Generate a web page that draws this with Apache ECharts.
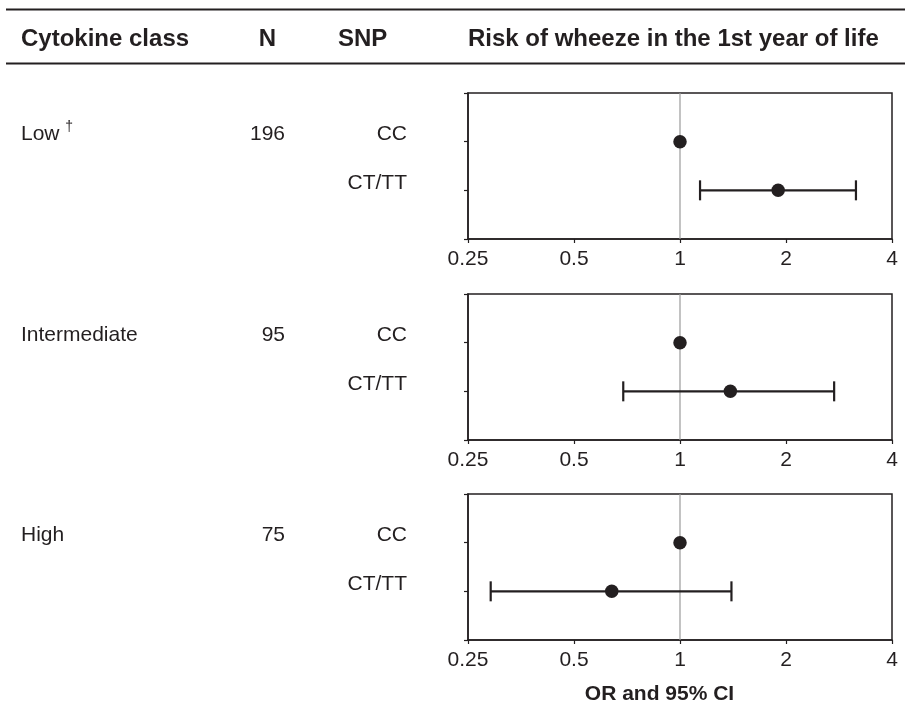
<!DOCTYPE html>
<html>
<head>
<meta charset="utf-8">
<style>
  html, body { margin: 0; padding: 0; background: #ffffff; }
  #chart { width: 905px; height: 713px; }
</style>
<script src="https://cdn.jsdelivr.net/npm/echarts@6/dist/echarts.min.js"></script>
</head>
<body>
<div id="chart"></div>
<script>
// ---- data ----
const headers = ['Cytokine class', 'N', 'SNP', 'Risk of wheeze in the 1st year of life'];
const cytokineClasses = ['Low', 'Intermediate', 'High'];
const classNotes = ['†', '', ''];
const nValues = [196, 95, 75];
const snpLabels = ['CC', 'CT/TT'];
const refOR = [1, 1, 1];            // CC reference group
const ctOR = [1.90, 1.39, 0.64];    // CT/TT odds ratio
const ciLow = [1.14, 0.69, 0.29];
const ciHigh = [3.16, 2.74, 1.40];
const xTicks = [0.25, 0.5, 1, 2, 4];
const xAxisTitle = 'OR and 95% CI';

// ---- layout ----
const INK = '#231f20';
const FONT = 'Arial, "Liberation Sans", Helvetica, sans-serif';
const gridTops = [93, 294, 494];
const gridH = 146;
const gridLeft = 468, gridRight = 13;
const rowY = [1, 2];

const chart = echarts.init(document.getElementById('chart'), null, { renderer: 'canvas' });

const grids = [], xAxes = [], yAxes = [], series = [], graphics = [];

gridTops.forEach((top, i) => {
  grids.push({
    left: gridLeft, right: gridRight, top: top, height: gridH,
    show: true, borderColor: INK, borderWidth: 1.5, backgroundColor: 'transparent'
  });
  xAxes.push({
    gridIndex: i, type: 'log', logBase: 2, position: 'bottom',
    min: xTicks[0], max: xTicks[xTicks.length - 1],
    axisLine: { show: true, onZero: false, lineStyle: { color: INK, width: 1.5 } },
    axisTick: { show: true, inside: false, length: 4, lineStyle: { color: INK, width: 1.2 } },
    splitLine: { show: false },
    minorTick: { show: false },
    axisLabel: {
      show: true, margin: 10, color: INK, fontSize: 21, fontFamily: FONT,
      formatter: v => { const t = xTicks.find(k => Math.abs(k - v) < 1e-6); return t === undefined ? '' : String(t); }
    }
  });
  yAxes.push({
    gridIndex: i, type: 'value', min: 0, max: 3, interval: 1, inverse: true, position: 'left',
    axisLine: { show: true, onZero: false, lineStyle: { color: INK, width: 1.5 } },
    axisTick: { show: true, inside: false, length: 4, lineStyle: { color: INK, width: 1.2 } },
    axisLabel: { show: false },
    splitLine: { show: false }
  });

  // reference line at OR = 1
  series.push({
    type: 'line', xAxisIndex: i, yAxisIndex: i,
    data: [[refOR[i], 0], [refOR[i], 3]],
    symbol: 'none', silent: true, z: 1,
    lineStyle: { color: '#9a9a9a', width: 1.2 }
  });
  // error bar for CT/TT
  series.push({
    type: 'custom', xAxisIndex: i, yAxisIndex: i, z: 2,
    data: [[ciLow[i], ciHigh[i], rowY[1]]],
    encode: { x: [0, 1], y: 2 },
    renderItem: (params, api) => {
      const y = api.value(2);
      const lo = api.coord([api.value(0), y]);
      const hi = api.coord([api.value(1), y]);
      const cap = 10;
      const st = { stroke: INK, lineWidth: 2.2 };
      return {
        type: 'group',
        children: [
          { type: 'line', shape: { x1: lo[0], y1: lo[1], x2: hi[0], y2: hi[1] }, style: st },
          { type: 'line', shape: { x1: lo[0], y1: lo[1] - cap, x2: lo[0], y2: lo[1] + cap }, style: st },
          { type: 'line', shape: { x1: hi[0], y1: hi[1] - cap, x2: hi[0], y2: hi[1] + cap }, style: st }
        ]
      };
    }
  });
  // point estimates
  series.push({
    type: 'scatter', xAxisIndex: i, yAxisIndex: i, z: 3,
    symbol: 'circle', symbolSize: 13.5,
    itemStyle: { color: INK, opacity: 1 },
    data: [[refOR[i], rowY[0]], [ctOR[i], rowY[1]]]
  });

  // table text for this panel
  const yCC = top + gridH * rowY[0] / 3;
  const yCT = top + gridH * rowY[1] / 3;
  graphics.push({
    type: 'text', x: 21, y: yCC - 7.5,
    style: {
      text: cytokineClasses[i] + (classNotes[i] ? ' {sup|' + classNotes[i] + '}' : ''),
      font: '21px ' + FONT, fill: INK, align: 'left', verticalAlign: 'middle',
      rich: { sup: { fontSize: 14, fontFamily: FONT, fill: INK, padding: [0, 0, 14, 0] } }
    }
  });
  graphics.push({
    type: 'text', x: 285, y: yCC - 7.5,
    style: { text: String(nValues[i]), font: '21px ' + FONT, fill: INK, align: 'right', verticalAlign: 'middle' }
  });
  graphics.push({
    type: 'text', x: 407, y: yCC - 7.5,
    style: { text: snpLabels[0], font: '21px ' + FONT, fill: INK, align: 'right', verticalAlign: 'middle' }
  });
  graphics.push({
    type: 'text', x: 407, y: yCT - 7.5,
    style: { text: snpLabels[1], font: '21px ' + FONT, fill: INK, align: 'right', verticalAlign: 'middle' }
  });
});

// header rules
graphics.push({ type: 'line', shape: { x1: 6, y1: 9.5, x2: 905, y2: 9.5 }, style: { stroke: INK, lineWidth: 1.8 } });
graphics.push({ type: 'line', shape: { x1: 6, y1: 63.5, x2: 905, y2: 63.5 }, style: { stroke: INK, lineWidth: 1.8 } });
// header text
const headerX = [21, 267.5, 338, 468];
const headerAlign = ['left', 'center', 'left', 'left'];
headers.forEach((h, k) => {
  graphics.push({
    type: 'text', x: headerX[k], y: 39.5,
    style: { text: h, font: 'bold 24px ' + FONT, fill: INK, align: headerAlign[k], verticalAlign: 'middle' }
  });
});
// x axis title
graphics.push({
  type: 'text', x: 659.5, y: 694.5,
  style: { text: xAxisTitle, font: 'bold 21px ' + FONT, fill: INK, align: 'center', verticalAlign: 'middle' }
});

chart.setOption({
  backgroundColor: '#ffffff',
  animation: false,
  grid: grids,
  xAxis: xAxes,
  yAxis: yAxes,
  series: series,
  graphic: { elements: graphics }
});
</script>
</body>
</html>
